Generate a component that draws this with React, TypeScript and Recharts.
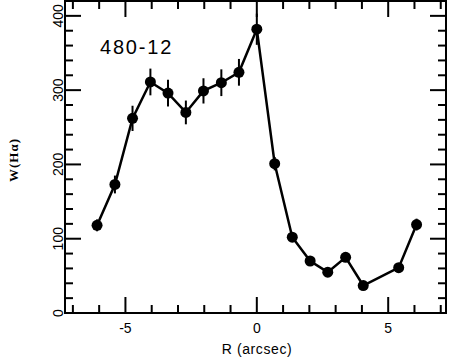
import { ComposedChart, Line, XAxis, YAxis, ErrorBar } from 'recharts';

// radial profile of H-alpha equivalent width
const radius = [-6.08, -5.4, -4.73, -4.05, -3.38, -2.7, -2.03, -1.35, -0.68, 0, 0.68, 1.35, 2.03, 2.7, 3.38, 4.05, 5.4, 6.08];
const ewHa = [118, 173, 262, 311, 296, 270, 299, 310, 324, 382, 201, 102, 70, 55, 75, 37, 61, 119];
const ewErr = [8, 12, 17, 18, 18, 16, 17, 18, 18, 21, 9, 5, 5, 5, 5, 4, 5, 8];

const xMajor = [-5, 0, 5];
const xMinor = [-7, -6, -5, -4, -3, -2, -1, 0, 1, 2, 3, 4, 5, 6, 7];
const yMajor = [0, 100, 200, 300, 400];
const yMinor = [0, 20, 40, 60, 80, 100, 120, 140, 160, 180, 200, 220, 240, 260, 280, 300, 320, 340, 360, 380, 400];

const data = radius.map((r, i) => ({ r, ew: ewHa[i], err: ewErr[i] }));

const X_DOMAIN: [number, number] = [-7.3, 7.2];
const Y_DOMAIN: [number, number] = [0, 420];
const W = 449;
const H = 360;
// plot box that the margins and axis sizes below produce
const PLOT = { left: 65, top: 1, right: 446, bottom: 313 };
const SANS = '"Liberation Sans", Arial, Helvetica, sans-serif';
const SERIF = '"Liberation Serif", "Times New Roman", serif';
const INK = '#000';

const sx = (v: number) => PLOT.left + ((v - X_DOMAIN[0]) / (X_DOMAIN[1] - X_DOMAIN[0])) * (PLOT.right - PLOT.left);
const sy = (v: number) => PLOT.bottom - ((v - Y_DOMAIN[0]) / (Y_DOMAIN[1] - Y_DOMAIN[0])) * (PLOT.bottom - PLOT.top);
const isMajorX = (v: number) => Math.abs(v % 5) < 1e-6;
const isMajorY = (v: number) => Math.abs(v % 100) < 1e-6;

function XLabel(props: any) {
  const { x, y, payload } = props;
  return (
    <text x={x} y={y + 20} textAnchor="middle" fontSize={14} fontFamily={SANS} fill={INK}>
      {payload.value}
    </text>
  );
}

function YLabel(props: any) {
  const { x, y, payload } = props;
  return (
    <text x={x - 2} y={y} transform={`rotate(-90, ${x - 2}, ${y})`} textAnchor="middle" fontSize={14} fontFamily={SANS} fill={INK}>
      {payload.value}
    </text>
  );
}

// frame, inward ticks and titles, drawn over the chart
function Frame() {
  return (
    <svg width={W} height={H} style={{ position: 'absolute', left: 0, top: 0, pointerEvents: 'none' }}>
      <rect x={PLOT.left} y={PLOT.top} width={PLOT.right - PLOT.left} height={PLOT.bottom - PLOT.top} fill="none" stroke={INK} strokeWidth={2} />
      {xMinor.map((v) => {
        const x = sx(v);
        const len = isMajorX(v) ? 16 : 8;
        return (
          <g key={`x${v}`}>
            <line x1={x} x2={x} y1={PLOT.bottom} y2={PLOT.bottom - len} stroke={INK} strokeWidth={2} />
            <line x1={x} x2={x} y1={PLOT.top} y2={PLOT.top + len} stroke={INK} strokeWidth={2} />
          </g>
        );
      })}
      {yMinor.map((v) => {
        const y = sy(v);
        const len = isMajorY(v) ? 16 : 8;
        return (
          <g key={`y${v}`}>
            <line x1={PLOT.left} x2={PLOT.left + len} y1={y} y2={y} stroke={INK} strokeWidth={2} />
            <line x1={PLOT.right} x2={PLOT.right - len} y1={y} y2={y} stroke={INK} strokeWidth={2} />
          </g>
        );
      })}
      <text x={100} y={54} fontSize={20} letterSpacing={1.8} fontFamily={SANS} fill={INK}>
        480-12
      </text>
      <text x={257} y={354} textAnchor="middle" fontSize={14} letterSpacing={0.6} fontFamily={SANS} fill={INK}>
        R (arcsec)
      </text>
      <text x={18} y={160} transform="rotate(-90, 18, 160)" textAnchor="middle" fontSize={13} fontWeight="bold" letterSpacing={1} fontFamily={SERIF} fill={INK}>
        W(Hα)
      </text>
    </svg>
  );
}

export default function App() {
  return (
    <div style={{ position: 'absolute', left: 0, top: 0, width: W, height: H }}>
      <ComposedChart width={W} height={H} data={data} margin={{ top: PLOT.top, right: W - PLOT.right, bottom: 0, left: 0 }}>
        <XAxis dataKey="r" type="number" domain={X_DOMAIN} ticks={xMajor} interval={0} height={H - PLOT.bottom} tickSize={0} tickMargin={0} tickLine={false} axisLine={false} tick={<XLabel />} />
        <YAxis type="number" domain={Y_DOMAIN} ticks={yMajor} interval={0} width={PLOT.left} tickSize={0} tickMargin={0} tickLine={false} axisLine={false} tick={<YLabel />} />
        <Line dataKey="ew" type="linear" stroke={INK} strokeWidth={2.5} dot={{ r: 5.5, fill: INK, stroke: INK, strokeWidth: 0 }} activeDot={false} isAnimationActive={false}>
          <ErrorBar dataKey="err" direction="y" width={0} stroke={INK} strokeWidth={2} />
        </Line>
      </ComposedChart>
      <Frame />
    </div>
  );
}
